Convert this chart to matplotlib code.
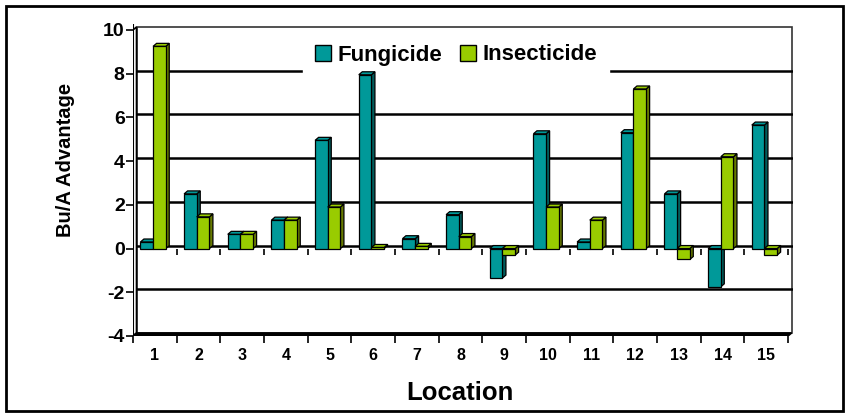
import matplotlib.pyplot as plt
from matplotlib.patches import Polygon, Rectangle, Patch

plt.rcParams['font.family'] = ['Liberation Sans', 'DejaVu Sans']
plt.rcParams['font.weight'] = 'bold'

locations = [str(i) for i in range(1, 16)]
fungicide = [0.3, 2.5, 0.65, 1.3, 4.95, 7.95, 0.45, 1.55, -1.35, 5.25, 0.3, 5.3, 2.5, -1.75, 5.65]
insecticide = [9.25, 1.45, 0.65, 1.3, 1.9, 0.05, 0.1, 0.55, -0.3, 1.9, 1.3, 7.3, -0.5, 4.2, -0.3]
yticks = [-4, -2, 0, 2, 4, 6, 8, 10]

teal = '#009999'
teal_side = '#005c5c'
green = '#99cc00'
green_side = '#667a00'

W, H = 846, 413
fig = plt.figure(figsize=(W / 100, H / 100), dpi=100)

px_x = 43.67   # pixels per category
px_y = 21.86   # pixels per unit
dx = 3.5 / px_x  # depth of the 3d effect
dy = 3.0 / px_y
ymin, ymax = -4, 10.25
xmax = 15.12

left = 133 / W
bottom = (H - 336) / H
ax = fig.add_axes([left, bottom, xmax * px_x / W, (ymax - ymin) * px_y / H])
ax.set_xlim(0, xmax)
ax.set_ylim(ymin, ymax)
for s in ax.spines.values():
    s.set_visible(False)

n = len(locations)

# back wall and gridlines
ax.add_patch(Rectangle((dx, ymin + dy), n, 14, fill=False, ec='#333333', lw=1.2, zorder=1))
for t in yticks[1:-1]:
    ax.plot([dx, n + dx], [t + dy, t + dy], color='black', lw=1.8, zorder=1)
# left wall
ax.add_patch(Polygon([(0, ymin), (0, 10), (dx, 10 + dy), (dx, ymin + dy)],
                     closed=True, fc='white', ec='black', lw=1.2, zorder=2))
# floor
ax.add_patch(Polygon([(0, ymin), (n, ymin), (n + dx, ymin + dy), (dx, ymin + dy)],
                     closed=True, fc='black', ec='black', lw=1.2, zorder=2))

# ticks hanging from the zero line
ax.vlines(range(n + 1), -0.28, 0, color='black', lw=1.2, zorder=2)

w = 0.29
z = 3
for i in range(n):
    c = i + 0.5
    for k, (vals, front, side) in enumerate([(fungicide, teal, teal_side),
                                             (insecticide, green, green_side)]):
        v = vals[i]
        xl = c - w - dx / 2 + k * w
        xr = xl + w
        lo, hi = min(v, 0), max(v, 0)
        ax.add_patch(Polygon([(xr, lo), (xr + dx, lo + dy), (xr + dx, hi + dy), (xr, hi)],
                             closed=True, fc=side, ec='black', lw=0.9, zorder=z))
        ax.add_patch(Polygon([(xl, hi), (xl + dx, hi + dy), (xr + dx, hi + dy), (xr, hi)],
                             closed=True, fc=front, ec='black', lw=0.9, zorder=z))
        ax.bar(xl, v, width=w, align='edge', color=front, edgecolor='black', lw=0.9, zorder=z + 0.5)
        z += 1

# axes ticks
ax.set_yticks(yticks)
ax.set_yticklabels([str(t) for t in yticks], fontsize=14, fontweight='bold')
ax.tick_params(axis='y', length=5, width=1.2, pad=1)
ax.set_xticks(range(n + 1))
ax.set_xticklabels([])
ax.set_xticks([i + 0.5 for i in range(n)], minor=True)
ax.set_xticklabels(locations, minor=True, fontsize=11.5, fontweight='bold')
ax.tick_params(axis='x', which='major', length=5, width=1.2)
ax.tick_params(axis='x', which='minor', length=0, pad=9)
ax.axvline(0, color='black', lw=1.5, zorder=2)

fig.text(460 / W, 1 - 393 / H, 'Location', ha='center', va='center', fontsize=18.5, fontweight='bold')
fig.text(65 / W, 1 - 160 / H, 'Bu/A Advantage', ha='center', va='center', rotation=90,
         fontsize=14.5, fontweight='bold')

# legend sits behind the bars but in front of the gridlines
handles = [Patch(fc=teal, ec='black', lw=1), Patch(fc=green, ec='black', lw=1)]
leg = ax.legend(handles, ['Fungicide', 'Insecticide'], loc='center',
                bbox_to_anchor=(456 / W, 1 - 55 / H), bbox_transform=fig.transFigure,
                ncol=2, frameon=True, fancybox=False, framealpha=1, edgecolor='white',
                prop={'size': 16, 'weight': 'bold'}, handlelength=0.7, handleheight=0.7,
                handletextpad=0.3, columnspacing=0.8, borderpad=0.55)
leg.set_zorder(1.5)

fig.patches.append(Rectangle((6 / W, 1 - 411 / H), 837 / W, 405 / H, transform=fig.transFigure,
                             fill=False, ec='black', lw=2))

fig.savefig('out.png', dpi=100)
